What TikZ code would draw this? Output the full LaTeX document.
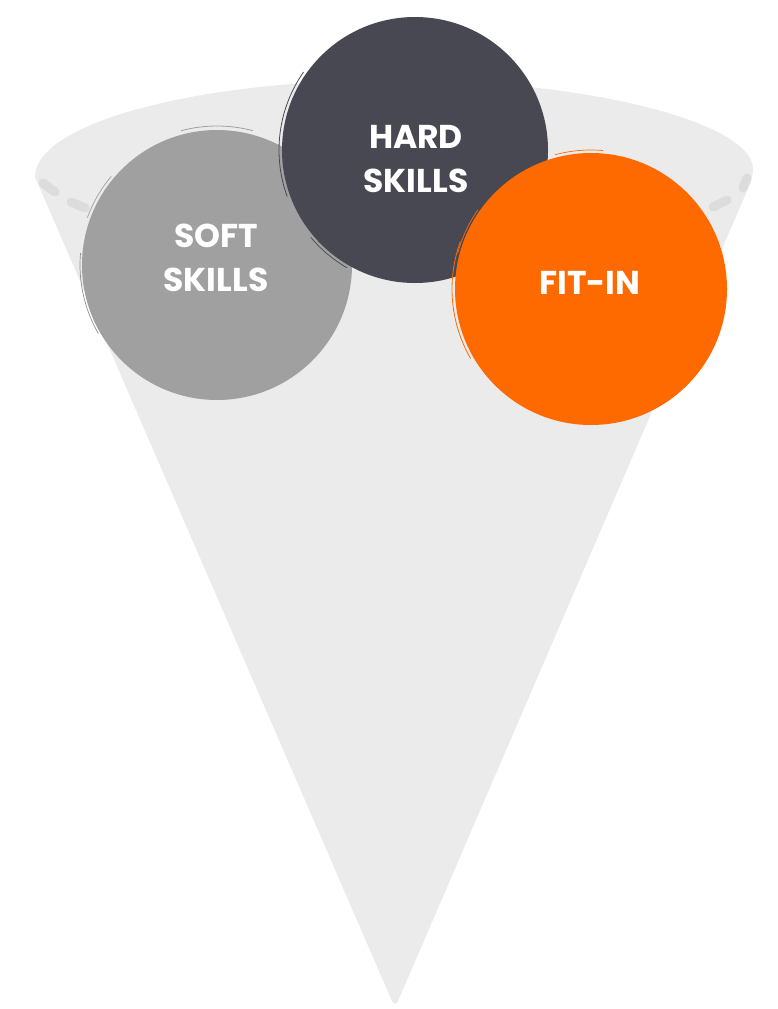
\documentclass[tikz,border=0pt]{standalone}
\usepackage{fontspec}
\setmainfont{Poppins}
\definecolor{conegray}{HTML}{EBEBEB}
\definecolor{dashgray}{HTML}{DCDCDC}
\definecolor{softgray}{HTML}{A0A0A0}
\definecolor{harddark}{HTML}{484852}
\definecolor{fitorange}{HTML}{FF6A00}
\tikzset{
  scoop/.style={circle, minimum size=#1, inner sep=0pt},
  scooptext/.style={text=white, font=\fontsize{33}{44}\selectfont\bfseries, align=center},
  rimdash/.style={draw=dashgray, line width=9pt, line cap=round},
}
\begin{document}
\begin{tikzpicture}[x=1pt,y=-1pt]
\useasboundingbox (0,0) rectangle (777,1009);
% cone
\fill[conegray, rounded corners=8pt] (35,177) -- (395,1008) -- (753,177) [sharp corners] arc[start angle=0, end angle=180, x radius=359, y radius=-97] -- cycle;
% rim dashes
\draw[rimdash] (43,183) -- (55,192);
\draw[rimdash] (71,202) -- (85,208);
\draw[rimdash] (747,178) -- (743,188);
\draw[rimdash] (727,200) -- (713,207);
% scoops
\node[scoop=270pt, fill=softgray] (soft) at (217,265) {};
\draw[softgray, line width=0.8pt] (soft.center) ++(-75:139) arc[start angle=-75, end angle=-105, radius=139];
\draw[softgray!90!black, line width=0.7pt] (soft.center) ++(150:137) arc[start angle=150, end angle=185, radius=137];
\draw[softgray, line width=0.7pt] (soft.center) ++(-140:138) arc[start angle=-140, end angle=-160, radius=138];
\node[scooptext] (softtext) at (216,258) {SOFT\\SKILLS};

\node[scoop=266pt, fill=harddark] (hard) at (415,150) {};
\draw[harddark, line width=0.8pt] (hard.center) ++(160:136) arc[start angle=160, end angle=215, radius=136];
\draw[harddark, line width=0.7pt] (hard.center) ++(120:136) arc[start angle=120, end angle=140, radius=136];
\node[scooptext] (hardtext) at (416,159) {HARD\\SKILLS};

\node[scoop=272pt, fill=fitorange] (fit) at (591,289) {};
\draw[fitorange, line width=0.8pt] (fit.center) ++(150:139) arc[start angle=150, end angle=200, radius=139];
\draw[fitorange, line width=0.7pt] (fit.center) ++(-85:139) arc[start angle=-85, end angle=-105, radius=139];
\draw[fitorange, line width=0.7pt] (fit.center) ++(-145:138) arc[start angle=-145, end angle=-165, radius=138];
\node[scooptext] (fittext) at (590,283) {FIT-IN};
\end{tikzpicture}
\end{document}
